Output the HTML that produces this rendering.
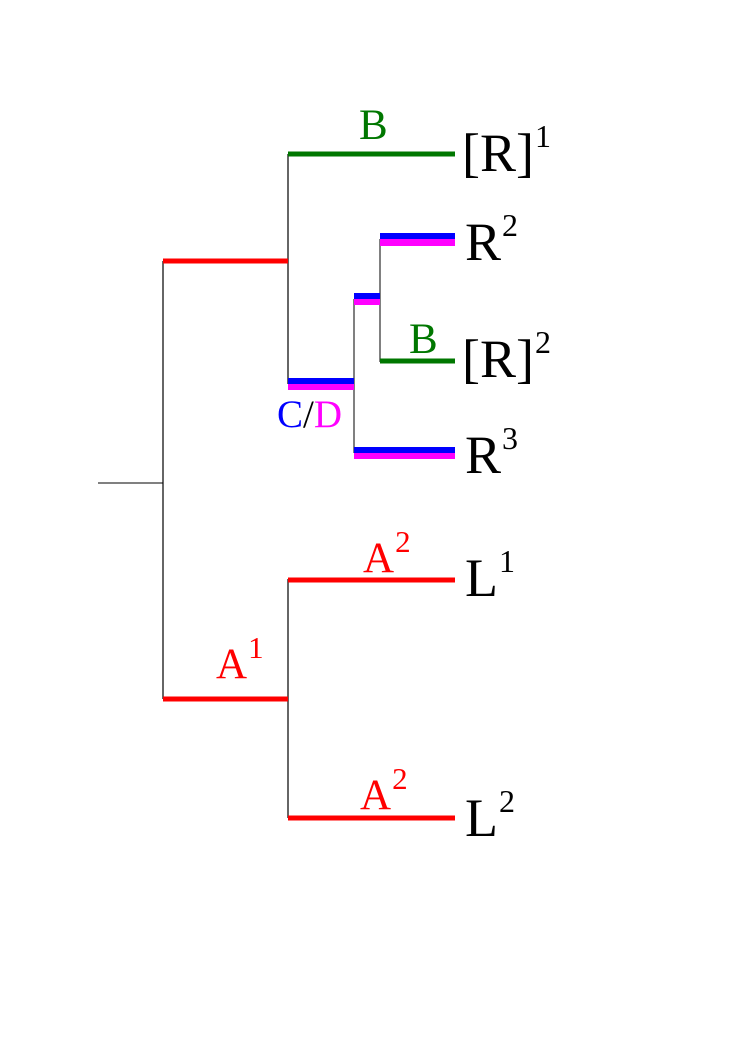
<!DOCTYPE html>
<html><head><meta charset="utf-8"><style>
html,body{margin:0;padding:0;background:#fff;}
svg{display:block;font-family:"Liberation Serif",serif;}
</style></head><body>
<svg width="745" height="1053" viewBox="0 0 745 1053">
<g stroke-linecap="butt">
<line x1="98" y1="483" x2="163" y2="483" stroke="#000" stroke-width="1"/>
<line x1="163" y1="261" x2="163" y2="699" stroke="#000" stroke-width="1.2"/>
<line x1="288" y1="154" x2="288" y2="384" stroke="#000" stroke-width="1.2"/>
<line x1="354" y1="299" x2="354" y2="453" stroke="#000" stroke-width="1"/>
<line x1="380" y1="239" x2="380" y2="362" stroke="#000" stroke-width="1"/>
<line x1="288" y1="579" x2="288" y2="818" stroke="#000" stroke-width="1.2"/>

<line x1="163" y1="261" x2="288" y2="261" stroke="#ff0000" stroke-width="5"/>
<line x1="288" y1="154" x2="455" y2="154" stroke="#007700" stroke-width="5"/>
<g>
<rect x="288" y="378" width="66" height="6" fill="#0000ff"/>
<rect x="288" y="384" width="66" height="6" fill="#ff00ff"/>
</g>
<g>
<rect x="354" y="293" width="26" height="6" fill="#0000ff"/>
<rect x="354" y="299" width="26" height="6" fill="#ff00ff"/>
</g>
<g>
<rect x="380" y="233" width="75" height="6" fill="#0000ff"/>
<rect x="380" y="239" width="75" height="7" fill="#ff00ff"/>
</g>
<line x1="380" y1="361" x2="455" y2="361" stroke="#007700" stroke-width="5"/>
<g>
<rect x="354" y="447" width="101" height="6" fill="#0000ff"/>
<rect x="354" y="453" width="101" height="6" fill="#ff00ff"/>
</g>
<line x1="163" y1="699" x2="288" y2="699" stroke="#ff0000" stroke-width="5"/>
<line x1="288" y1="580" x2="455" y2="580" stroke="#ff0000" stroke-width="5"/>
<line x1="288" y1="818" x2="455" y2="818" stroke="#ff0000" stroke-width="5"/>
</g>

<g font-size="43">
<text x="359" y="139" fill="#007700">B</text>
<text x="409" y="353" fill="#007700">B</text>
<text x="277" y="427" font-size="39"><tspan fill="#0000ff">C</tspan><tspan fill="#000">/</tspan><tspan fill="#ff00ff">D</tspan></text>
<text x="363" y="572" fill="#ff0000">A<tspan font-size="31" dy="-20" dx="1">2</tspan></text>
<text x="216" y="678" fill="#ff0000">A<tspan font-size="31" dy="-20" dx="1">1</tspan></text>
<text x="360" y="809" fill="#ff0000">A<tspan font-size="31" dy="-20" dx="1">2</tspan></text>
</g>

<g font-size="54" fill="#000">
<text x="462" y="171">[R]<tspan font-size="32" dy="-24" dx="1">1</tspan></text>
<text x="465" y="260">R<tspan font-size="32" dy="-24" dx="1">2</tspan></text>
<text x="462" y="377">[R]<tspan font-size="32" dy="-24" dx="1">2</tspan></text>
<text x="465" y="473">R<tspan font-size="32" dy="-24" dx="1">3</tspan></text>
<text x="465" y="596">L<tspan font-size="32" dy="-24" dx="1">1</tspan></text>
<text x="465" y="836">L<tspan font-size="32" dy="-24" dx="1">2</tspan></text>
</g>
</svg>
</body></html>
